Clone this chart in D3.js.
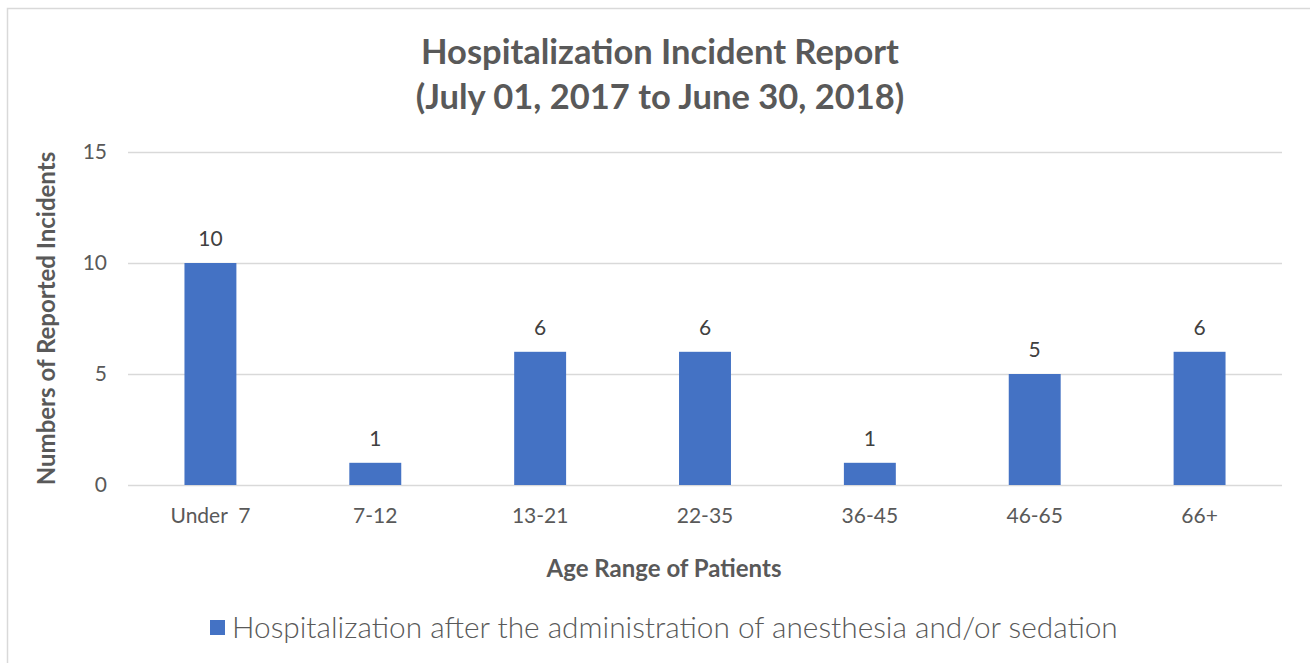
<!DOCTYPE html>
<html>
<head>
<meta charset="utf-8">
<script src="https://cdn.jsdelivr.net/npm/d3@7"></script>
<style>
  html, body { margin: 0; padding: 0; background: #fff; }
  svg { display: block; }
</style>
</head>
<body>
<script>
const width = 1310
const height = 663

// chart data
const ageRanges = ['Under  7', '7-12', '13-21', '22-35', '36-45', '46-65', '66+']
const incidents = [10, 1, 6, 6, 1, 5, 6]
const yTicks = [0, 5, 10, 15]
const titleLines = ['Hospitalization Incident Report', '(July 01, 2017 to June 30, 2018)']
const seriesName = 'Hospitalization after the administration of anesthesia and/or sedation'

const textColor = '#595959'
const barColor = '#4472c4'
const font = 'Lato, "Open Sans", sans-serif'

const margin = { top: 152, right: 28, bottom: 178, left: 128 }

const svg = d3.select('body')
  .append('svg')
  .attr('width', width)
  .attr('height', height)

// chart frame
svg.append('rect')
  .attr('x', 7.5)
  .attr('y', 8.5)
  .attr('width', width)
  .attr('height', height)
  .attr('fill', 'none')
  .attr('stroke', '#d9d9d9')
  .attr('stroke-width', 1.5)

const x = d3.scaleBand()
  .domain(ageRanges)
  .range([margin.left, width - margin.right])
  .paddingInner(0.685)
  .paddingOuter(0.3425)

const y = d3.scaleLinear()
  .domain([0, 15])
  .range([height - margin.bottom, margin.top])

// gridlines
const grid = svg.append('g')
  .attr('transform', `translate(${margin.left},0)`)
  .call(d3.axisLeft(y)
    .tickValues(yTicks)
    .tickSize(-(width - margin.left - margin.right))
    .tickFormat(''))
grid.select('.domain').remove()
grid.selectAll('.tick line')
  .attr('stroke', '#d9d9d9')
  .attr('stroke-width', 1.5)

// y tick labels
const yAxis = svg.append('g')
  .attr('transform', `translate(${margin.left},0)`)
  .call(d3.axisLeft(y).tickValues(yTicks).tickSize(0).tickPadding(21))
yAxis.select('.domain').remove()
yAxis.selectAll('text')
  .attr('fill', textColor)
  .style('font-family', font)
  .style('font-size', '21px')

// bars
svg.append('g')
  .selectAll('rect')
  .data(incidents)
  .join('rect')
  .attr('x', (d, i) => x(ageRanges[i]))
  .attr('y', d => y(d))
  .attr('width', x.bandwidth())
  .attr('height', d => y(0) - y(d))
  .attr('fill', barColor)

// data labels
svg.append('g')
  .selectAll('text')
  .data(incidents)
  .join('text')
  .attr('x', (d, i) => x(ageRanges[i]) + x.bandwidth() / 2)
  .attr('y', d => y(d) - 17)
  .attr('text-anchor', 'middle')
  .attr('fill', '#404040')
  .style('font-family', font)
  .style('font-size', '21px')
  .text(d => d)

// x axis labels
const xAxis = svg.append('g')
  .attr('transform', `translate(0,${y(0)})`)
  .call(d3.axisBottom(x).tickSize(0).tickPadding(23))
xAxis.select('.domain').remove()
xAxis.selectAll('text')
  .attr('fill', textColor)
  .style('font-family', font)
  .style('font-size', '21px')
  .style('white-space', 'pre')

// title
svg.append('g')
  .selectAll('text')
  .data(titleLines)
  .join('text')
  .attr('x', 660)
  .attr('y', (d, i) => 64 + i * 45)
  .attr('text-anchor', 'middle')
  .attr('fill', textColor)
  .style('font-family', font)
  .style('font-weight', 'bold')
  .style('font-size', '34.5px')
  .text(d => d)

// axis titles
svg.append('text')
  .attr('transform', `translate(55,${(y(0) + y(15)) / 2}) rotate(-90)`)
  .attr('text-anchor', 'middle')
  .attr('fill', textColor)
  .style('font-family', font)
  .style('font-weight', 'bold')
  .style('font-size', '24px')
  .text('Numbers of Reported Incidents')

svg.append('text')
  .attr('x', 664)
  .attr('y', 577)
  .attr('text-anchor', 'middle')
  .attr('fill', textColor)
  .style('font-family', font)
  .style('font-weight', 'bold')
  .style('font-size', '24px')
  .text('Age Range of Patients')

// legend
const legend = svg.append('g')
legend.append('rect')
  .attr('x', 210)
  .attr('y', 620)
  .attr('width', 15)
  .attr('height', 15)
  .attr('fill', barColor)
legend.append('text')
  .attr('x', 232)
  .attr('y', 638)
  .attr('fill', textColor)
  .style('font-family', font)
  .style('font-weight', '300')
  .style('font-size', '29.8px')
  .text(seriesName)
</script>
</body>
</html>
